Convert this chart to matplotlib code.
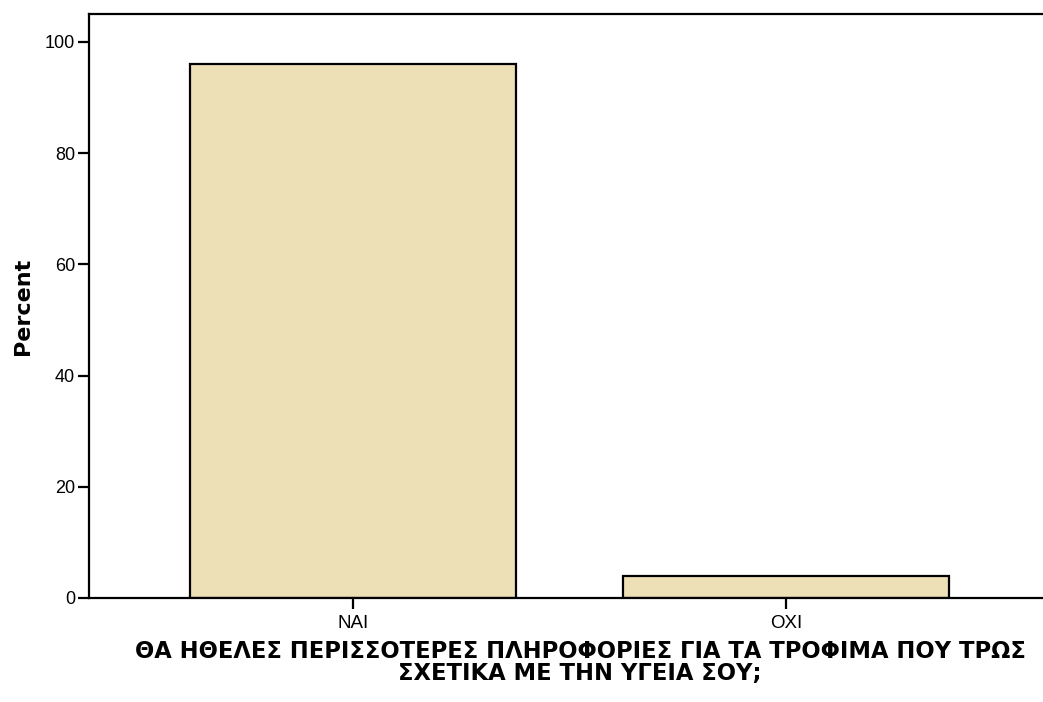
import matplotlib
matplotlib.use("Agg")
import matplotlib.pyplot as plt

categories = ["ΝΑΙ", "ΟΧΙ"]
percent = [96.0, 4.0]
yticks = [0, 20, 40, 60, 80, 100]
xlabel = "ΘΑ ΗΘΕΛΕΣ ΠΕΡΙΣΣΟΤΕΡΕΣ ΠΛΗΡΟΦΟΡΙΕΣ ΓΙΑ ΤΑ ΤΡΟΦΙΜΑ ΠΟΥ ΤΡΩΣ\nΣΧΕΤΙΚΑ ΜΕ ΤΗΝ ΥΓΕΙΑ ΣΟΥ;"

plt.rcParams['font.family'] = ['Liberation Sans', 'DejaVu Sans']

fig = plt.figure(figsize=(10.43, 7.02), dpi=100)
ax = fig.add_axes([89/1043, 1 - 598/702, (1050 - 89)/1043, (598 - 14)/702])

x = range(len(categories))
ax.bar(x, percent, width=0.753, color="#ede0b7", edgecolor="black", linewidth=1.6)

ax.set_xlim(-0.61, 1.61)
ax.set_ylim(0, 105)
ax.set_xticks(list(x))
ax.set_xticklabels(categories, fontsize=13.5)
ax.set_yticks(yticks)
ax.set_yticklabels([str(v) for v in yticks], fontsize=13)

ax.spines["right"].set_visible(False)
for s in ["left", "bottom", "top"]:
    ax.spines[s].set_linewidth(1.6)
ax.tick_params(axis="both", direction="out", length=8, width=1.6, pad=2)
ax.tick_params(axis="x", pad=4)

ax.set_ylabel("Percent", fontsize=16, fontweight="bold", family="DejaVu Sans")
ax.yaxis.set_label_coords((23 - 89) / 961, 0.5)
ax.yaxis.label.set_va("center")

ax.set_xlabel(xlabel, fontsize=16.3, fontweight="bold", family="DejaVu Sans", linespacing=0.92)
ax.xaxis.set_label_coords((580 - 89) / 961, -0.072)
ax.xaxis.label.set_va("top")

fig.savefig("out.png", dpi=100)
